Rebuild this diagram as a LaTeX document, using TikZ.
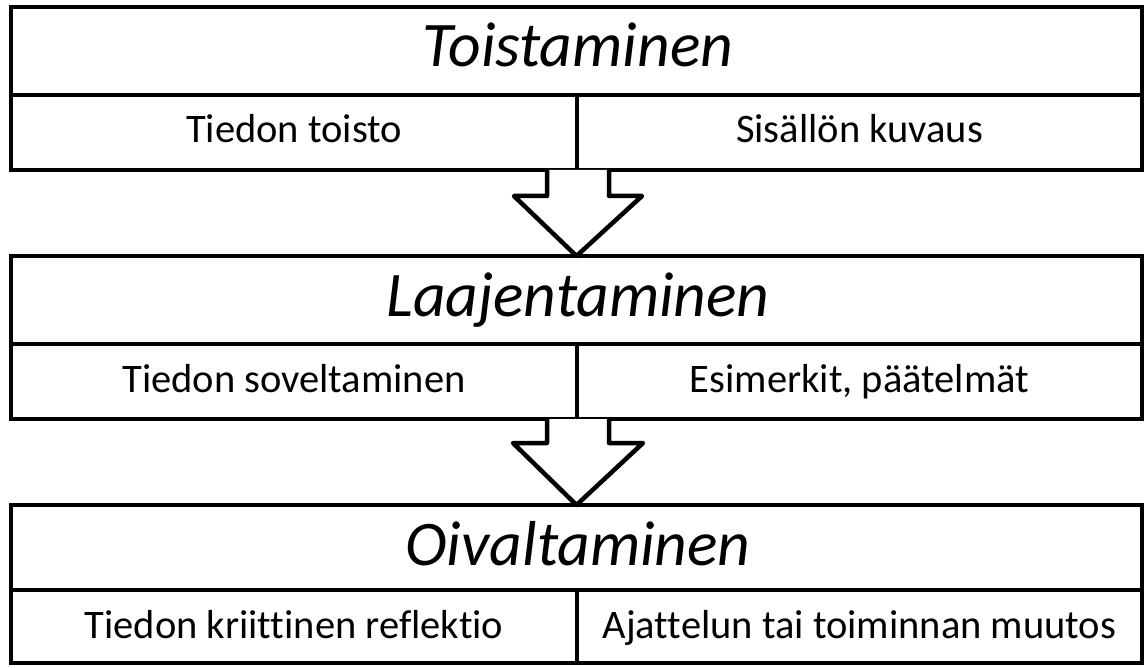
\documentclass[tikz,border=0pt]{standalone}
\usepackage{fontspec}
\setmainfont{Carlito}[Ligatures=CommonOff]
\usetikzlibrary{calc}
\tikzset{
  cell/.style={draw=black, line width=4.5pt, fill=white, inner sep=0pt, outer sep=0pt},
  titletext/.style={anchor=base, inner sep=0pt, font=\fontsize{63.5}{70}\selectfont\itshape},
  subtext/.style={anchor=base, inner sep=0pt, font=\fontsize{40.5}{45}\selectfont},
  blockarrow/.style={draw=black, line width=4.5pt, fill=white, line join=round}
}
\begin{document}
\begin{tikzpicture}[x=1pt,y=-1pt]
\useasboundingbox[fill=white] (0,0) rectangle (1145,668);
% block 1
\node[cell, minimum width=1131pt, minimum height=88pt] (t1) at (576.5,51) {};
\node[cell, minimum width=566pt, minimum height=75pt] (l1) at (294,132.5) {};
\node[cell, minimum width=565pt, minimum height=75pt] (r1) at (859.5,132.5) {};
% block 2
\node[cell, minimum width=1131pt, minimum height=88pt] (t2) at (576.5,300) {};
\node[cell, minimum width=566pt, minimum height=75pt] (l2) at (294,381.5) {};
\node[cell, minimum width=565pt, minimum height=75pt] (r2) at (859.5,381.5) {};
% block 3
\node[cell, minimum width=1131pt, minimum height=85pt] (t3) at (576.5,547.5) {};
\node[cell, minimum width=566pt, minimum height=73pt] (l3) at (294,626.5) {};
\node[cell, minimum width=565pt, minimum height=73pt] (r3) at (859.5,626.5) {};
% arrows
\draw[blockarrow] ($(l1.south east)+(-30,0)$) -- ++(0,26) -- ++(-33,0) -- (t2.north)
  -- ($(l1.south east)+(65,26)$) -- ++(-33,0) -- ($(l1.south east)+(32,0)$);
\draw[blockarrow] ($(l2.south east)+(-30,0)$) -- ++(0,24) -- ++(-34,0) -- (t3.north)
  -- ($(l2.south east)+(66,24)$) -- ++(-34,0) -- ($(l2.south east)+(32,0)$);
% texts
\node[titletext] (tt1) at (578,67) {Toistaminen};
\node[subtext] (lt1) at (294,143) {Tiedon toisto};
\node[subtext] (rt1) at (859.5,143) {Sisällön kuvaus};
\node[titletext] (tt2) at (578,316) {Laajentaminen};
\node[subtext] (lt2) at (294,392) {Tiedon soveltaminen};
\node[subtext] (rt2) at (859.5,392) {Esimerkit, päätelmät};
\node[titletext] (tt3) at (578,565) {Oivaltaminen};
\node[subtext] (lt3) at (294,638) {Tiedon kriittinen reflektio};
\node[subtext] (rt3) at (859.5,638) {Ajattelun tai toiminnan muutos};
\end{tikzpicture}
\end{document}
